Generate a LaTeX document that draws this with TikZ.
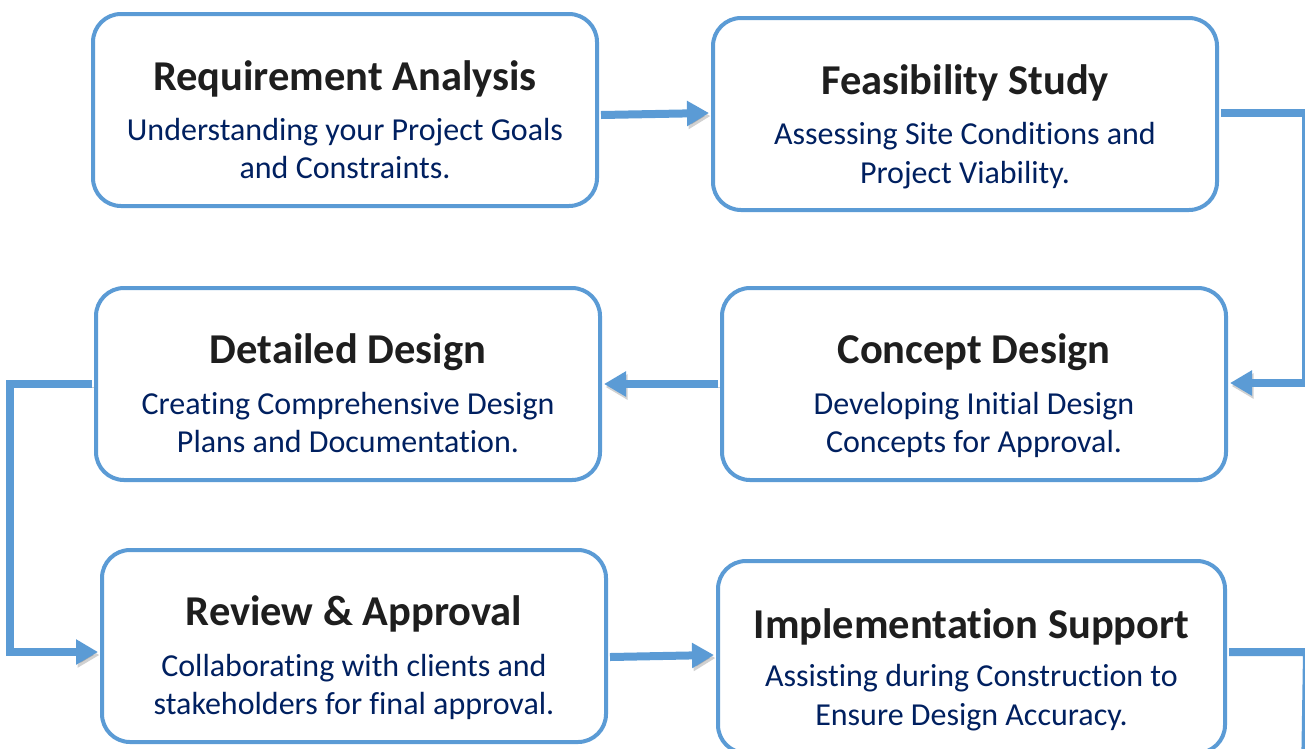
\documentclass[tikz,border=0pt]{standalone}
\usepackage{fontspec}
\setmainfont[Ligatures=NoCommon]{Carlito}
\usetikzlibrary{arrows.meta,calc}
\definecolor{boxblue}{RGB}{91,155,213}
\definecolor{titlecol}{RGB}{30,30,30}
\definecolor{bodycol}{RGB}{0,32,96}
\tikzset{
  stagebox/.style={draw=boxblue, line width=4pt, rounded corners=28pt, fill=white,
    minimum width=504pt, minimum height=192pt, inner sep=0pt},
  ttl/.style={anchor=base, inner sep=0pt, text=titlecol, font=\fontsize{42.5}{50}\selectfont\bfseries},
  bdy/.style={anchor=base, inner sep=0pt, text=bodycol, font=\fontsize{32}{38}\selectfont},
  flow/.style={draw=boxblue, line width=8pt, line join=miter,
    -{Triangle[length=22pt,width=24pt]},
    preaction={draw=black, opacity=0.18, transform canvas={shift={(1.5,3)}}}},
  flowplain/.style={draw=boxblue, line width=8pt, line join=miter,
    preaction={draw=black, opacity=0.18, transform canvas={shift={(1.5,3)}}}}
}
\begin{document}
\begin{tikzpicture}[x=1pt,y=-1pt]
\useasboundingbox (0,0) rectangle (1305,748);
\clip (0,0) rectangle (1305,748);
% boxes
\node[stagebox] (b1) at (345,110) {};
\node[stagebox] (b2) at (965,114) {};
\node[stagebox] (b3) at (348,384) {};
\node[stagebox] (b4) at (974,384) {};
\node[stagebox] (b5) at (354,646) {};
\node[stagebox, minimum width=507pt] (b6) at (971.5,657) {};
% connectors
\draw[flow] ($(b1.east)+(2,5)$) -- ($(b2.west)+(-2,-1)$);
\draw[flow] ($(b2.east)+(2,-1)$) -- ++(85,0) |- ($(b4.east)+(2,-1)$);
\draw[flow] ($(b4.west)+(-2,0)$) -- ($(b3.east)+(2,0)$);
\draw[flow] ($(b3.west)+(-2,0)$) -- ++(-82,0) |- ($(b5.west)+(-2,6)$);
\draw[flow] ($(b5.east)+(2,11)$) -- ($(b6.west)+(-2,-2)$);
\coordinate (exit) at ($(b6.east)+(78,120)$);
\draw[flowplain] ($(b6.east)+(2,-5)$) -- ++(78,0) -- (exit);
% texts
\node[ttl] (t1) at ($(b1.north)+(0,78)$) {Requirement Analysis};
\node[bdy] (d1a) at ($(b1.north)+(0,128.5)$) {Understanding your Project Goals};
\node[bdy] (d1b) at ($(b1.north)+(0,166.5)$) {and Constraints.};
\node[ttl] (t2) at ($(b2.north)+(0,78)$) {Feasibility Study};
\node[bdy] (d2a) at ($(b2.north)+(0,128.5)$) {Assessing Site Conditions and};
\node[bdy] (d2b) at ($(b2.north)+(0,167)$) {Project Viability.};
\node[ttl] (t3) at ($(b3.north)+(0,77)$) {Detailed Design};
\node[bdy] (d3a) at ($(b3.north)+(0,128)$) {Creating Comprehensive Design};
\node[bdy] (d3b) at ($(b3.north)+(0,166)$) {Plans and Documentation.};
\node[ttl] (t4) at ($(b4.north)+(0,77)$) {Concept Design};
\node[bdy] (d4a) at ($(b4.north)+(0,128)$) {Developing Initial Design};
\node[bdy] (d4b) at ($(b4.north)+(0,166)$) {Concepts for Approval.};
\node[ttl] (t5) at ($(b5.north)+(0,77)$) {Review \& Approval};
\node[bdy] (d5a) at ($(b5.north)+(0,128)$) {Collaborating with clients and};
\node[bdy] (d5b) at ($(b5.north)+(0,166)$) {stakeholders for final approval.};
\node[ttl] (t6) at ($(b6.north)+(0,79)$) {Implementation Support};
\node[bdy] (d6a) at ($(b6.north)+(0,127)$) {Assisting during Construction to};
\node[bdy] (d6b) at ($(b6.north)+(0,166)$) {Ensure Design Accuracy.};
\end{tikzpicture}
\end{document}
